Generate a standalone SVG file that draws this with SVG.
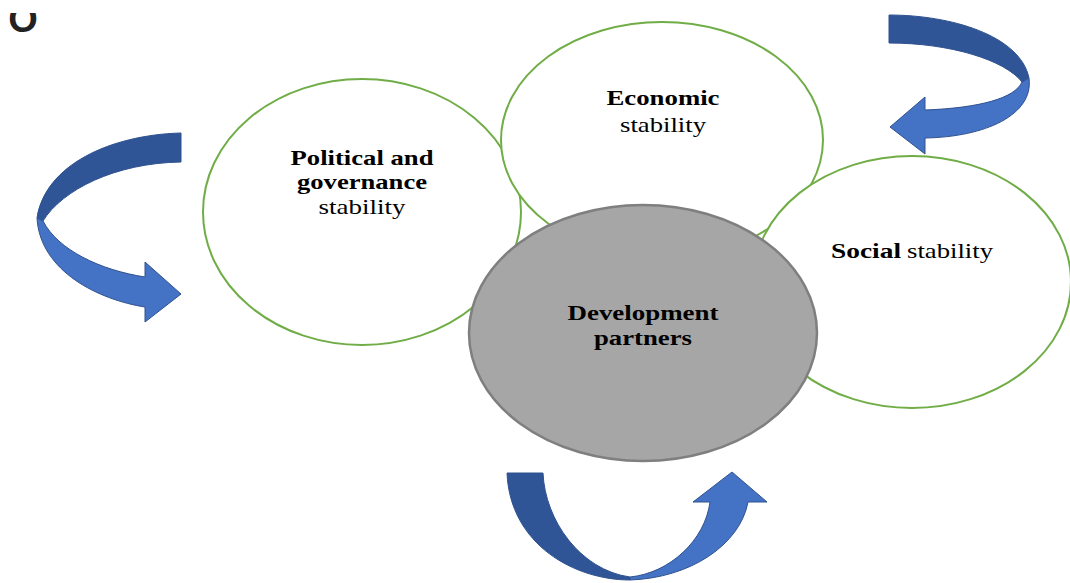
<svg xmlns="http://www.w3.org/2000/svg" width="1070" height="583" viewBox="0 0 1070 583">
<style>
.ring{fill:#ffffff;stroke:#70ad47;stroke-width:2}
.core{fill:#a6a6a6;stroke:#7f7f7f;stroke-width:2.5}
.b{font-family:"Liberation Serif","Times New Roman",serif;font-weight:bold;font-size:22px;fill:#000}
.r{font-family:"Liberation Serif","Times New Roman",serif;font-size:21px;fill:#000}
.dark{fill:#2f5597;stroke:#2f528f;stroke-width:1}
.light{fill:#4472c4;stroke:#2f528f;stroke-width:1}
</style>
<defs>
<clipPath id="topclip"><rect x="0" y="13" width="60" height="40"/></clipPath>
</defs>
<rect width="1070" height="583" fill="#ffffff"/>
<text x="23" y="31.5" text-anchor="middle" clip-path="url(#topclip)" style="font-family:'Liberation Sans',Arial,sans-serif;font-weight:bold;font-size:38px;fill:#222">O</text>

<g id="political">
<ellipse class="ring" cx="362" cy="212" rx="159" ry="133"/>
<text class="b" x="362" y="165" text-anchor="middle" textLength="143" lengthAdjust="spacingAndGlyphs">Political and</text>
<text class="b" x="362" y="189" text-anchor="middle" textLength="130" lengthAdjust="spacingAndGlyphs">governance</text>
<text class="r" x="362" y="214" text-anchor="middle" textLength="87" lengthAdjust="spacingAndGlyphs">stability</text>
</g>
<g id="economic">
<ellipse class="ring" cx="662" cy="140" rx="161" ry="118"/>
<text class="b" x="663" y="105" text-anchor="middle" textLength="113" lengthAdjust="spacingAndGlyphs">Economic</text>
<text class="r" x="663" y="132" text-anchor="middle" textLength="86" lengthAdjust="spacingAndGlyphs">stability</text>
</g>
<g id="social">
<ellipse class="ring" cx="912" cy="282" rx="159" ry="126"/>
<text class="b" x="831" y="258" textLength="70" lengthAdjust="spacingAndGlyphs">Social</text>
<text class="r" x="907" y="258" textLength="86" lengthAdjust="spacingAndGlyphs">stability</text>
</g>
<g id="development">
<ellipse class="core" cx="643" cy="333" rx="174" ry="128"/>
<text class="b" x="643" y="320" text-anchor="middle" textLength="151" lengthAdjust="spacingAndGlyphs">Development</text>
<text class="b" x="643" y="345" text-anchor="middle" textLength="98" lengthAdjust="spacingAndGlyphs">partners</text>
</g>

<g id="connectors">
<g id="arrow-left">
<path class="dark" d="M181,133 C110,135 45,165 37,218 L43,221 C62,190 115,163 181,162 Z"/>
<path class="light" d="M37,218 C40,272 100,300 145,307 L145,322 L181,294 L145,262 L145,277 C100,270 58,250 43,221 Z"/>
</g>
<g id="arrow-top-right">
<path class="dark" d="M889,15 C950,15 1020,35 1029,78 L1022,82 C1005,60 950,43 889,43 Z"/>
<path class="light" d="M1029,78 C1034,115 985,137 925,138 L925,154 L890,127 L925,97 L925,110 C980,108 1015,98 1022,82 Z"/>
</g>
<g id="arrow-bottom">
<path class="dark" d="M507,473 L543,473 C545,520 580,570 630,577 L630,580 C575,580 510,545 507,473 Z"/>
<path class="light" d="M630,580 C690,578 740,545 748,502 L767,502 L732,472 L693,502 L710,502 C705,540 670,573 630,577 Z"/>
</g>
</g>
</svg>
